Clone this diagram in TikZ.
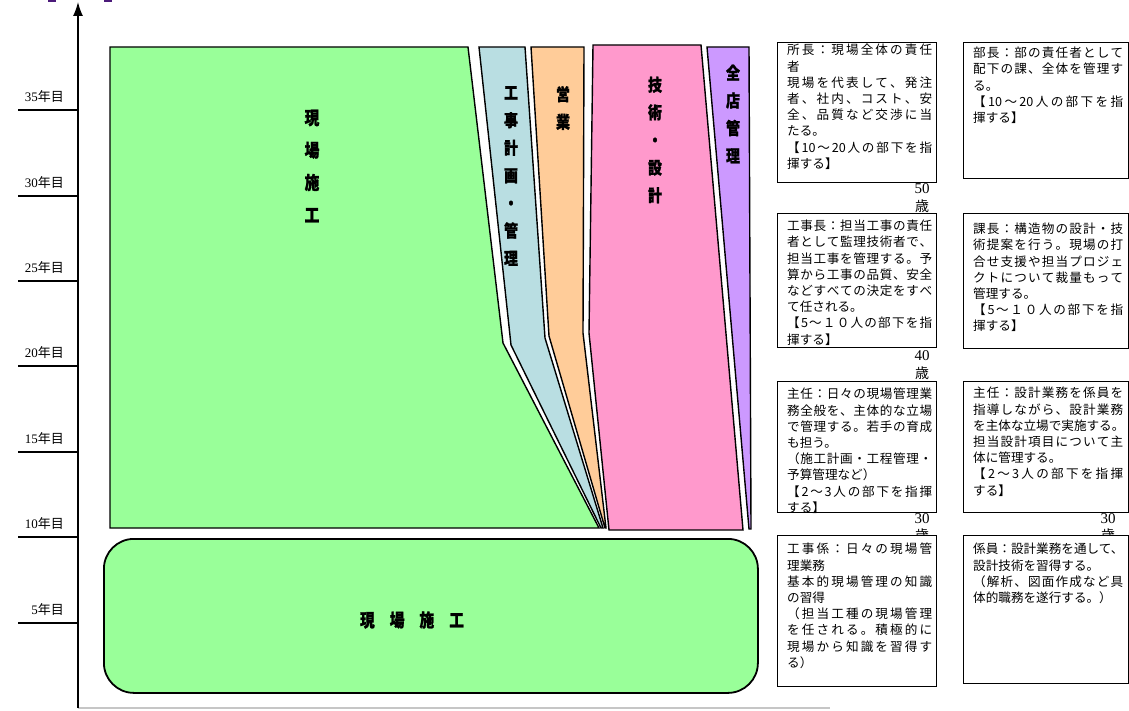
\documentclass[tikz,border=0pt]{standalone}
\usepackage{fontspec}
\setmainfont{Liberation Serif}
\newfontfamily\jp{Noto Sans CJK JP}
\newfontfamily\jpc{Noto Sans CJK JP}[FakeStretch=0.82, BoldFeatures={FakeBold=1.2}]
\usetikzlibrary{arrows.meta}
\makeatletter
\def\jaend{\jaend}
\def\jaloop#1{\ifx\jaend#1\else#1\hskip 0pt plus 1fil\expandafter\jaloop\fi}
\newcommand\ja[1]{\hbox to 145pt{\jaloop#1\jaend\unskip}}
\newcommand\jb[1]{\hbox to 150pt{\jaloop#1\jaend\unskip}}
\makeatother
\definecolor{cgreen}{HTML}{99FF99}
\definecolor{cblue}{HTML}{B9DEE2}
\definecolor{corange}{HTML}{FFCC99}
\definecolor{cpink}{HTML}{FF99CC}
\definecolor{cpurple}{HTML}{CC99FF}
\definecolor{cmark}{HTML}{4B1A7A}
\tikzset{
  band/.style={draw=black, line width=1.4pt, line join=miter},
  vlab/.style={align=center, inner sep=0pt, font=\jpc\bfseries\fontsize{17}{27.6}\selectfont},
  infobox/.style={draw=black, line width=1.1pt, fill=white, inner sep=0pt, anchor=north west},
  infotext/.style={align=left, inner sep=0pt, anchor=north west, font=\jp\fontsize{12.6}{16.2}\selectfont},
  agenum/.style={inner sep=0pt, font=\fontsize{15}{15}\selectfont},
  agekanji/.style={inner sep=0pt, font=\jp\fontsize{14}{14}\selectfont},
  ylab/.style={inner sep=0pt, anchor=east, font=\fontsize{13}{13}\selectfont},
}
\begin{document}
\begin{tikzpicture}[x=1pt, y=-1pt]
\useasboundingbox (0,0) rectangle (1129,711);

% top fragments
\fill[cmark] (48,0) rectangle (56,2.5);
\fill[cmark] (104,0) rectangle (112,2.5);

% axis
\coordinate (ax0) at (78,708);
\coordinate (axtop) at (78,2);
\coordinate (axr) at (830,708);
\draw[line width=2pt, gray!45] (ax0) -- (axr);
\draw[line width=1.5pt, -{Latex[length=14pt, width=10pt]}] (ax0) -- (axtop);

% ticks and labels
\foreach \y/\t in {110/35, 196/30, 281/25, 366/20, 452/15, 537/10, 623/5} {
  \coordinate (tl\t) at (18,\y);
  \coordinate (tr\t) at (78,\y);
  \draw[line width=1.1pt] (tl\t) -- (tr\t);
  \node[ylab] (yl\t) at (64,\y-13) {\t{\jp 年目}};
}

% bands
\fill[cgreen] (110,47) -- (468,47) -- (503,343) -- (599,528) -- (110,528) -- cycle;
\draw[band] (110,47) -- (468,47) -- (503,343) -- (599,528) -- (110,528) -- cycle;
\draw[band, fill=cblue] (479,47) -- (525,47) -- (545,338) -- (603,528) -- (601,528) -- (511,345) -- cycle;
\draw[band, fill=corange] (531,47) -- (584,47) -- (583,333) -- (606,528) -- (605,528) -- (549,336) -- cycle;
\draw[band, fill=cpink] (593,45) -- (701,45) -- (743,530) -- (609,530) -- (589,333) -- cycle;
\draw[band, fill=cpurple] (707,47) -- (749,47) -- (751,529) -- (749,529) -- cycle;

% band labels
\node[vlab, font=\jpc\bfseries\fontsize{18}{32.4}\selectfont] (lgenba) at (312,166) {現\\場\\施\\工};
\node[vlab] (lkoji) at (511,176) {工\\事\\計\\画\\・\\管\\理};
\node[vlab] (leigyo) at (563,108) {営\\業};
\node[vlab] (lgijutsu) at (655,140) {技\\術\\・\\設\\計};
\node[vlab] (lzenten) at (733,114) {全\\店\\管\\理};

% bottom rounded box
\node[draw=black, line width=1.8pt, fill=cgreen, rounded corners=30pt,
      minimum width=654pt, minimum height=154pt, anchor=north west, inner sep=0pt] (base) at (103,538) {};
\node[inner sep=0pt, font=\jpc\bfseries\fontsize{18}{18}\selectfont] (basetxt) at (412,620) {現\hspace{15pt}場\hspace{15pt}施\hspace{15pt}工};

% age labels
\node[agenum] (a50) at (922,189) {50};
\node[agekanji] (a50k) at (922,206) {歳};
\node[agenum] (a40) at (922,356) {40};
\node[agekanji] (a40k) at (922,373) {歳};
\node[agenum] (a30) at (922,519) {30};
\node[agekanji] (a30k) at (922,535) {歳};
\node[agenum] (b30) at (1108,519) {30};
\node[agekanji] (b30k) at (1108,535) {歳};

% info boxes column 1
\node[infobox, minimum width=159pt, minimum height=140pt] (B1) at (777,42) {};
\node[infotext] (B1t) at (787,44) {\ja{所長：現場全体の責任}\\者\\\ja{現場を代表して、発注}\\\ja{者、社内、コスト、安}\\\ja{全、品質など交渉に当}\\たる。\\\ja{【{10}～{20}人の部下を指}\\揮する】};
\node[infobox, minimum width=159pt, minimum height=134pt] (B2) at (777,213) {};
\node[infotext] (B2t) at (787,220) {\ja{工事長：担当工事の責任}\\\ja{者として監理技術者で、}\\\ja{担当工事を管理する。予}\\\ja{算から工事の品質、安全}\\\ja{などすべての決定をすべ}\\て任される。\\\ja{【5～１０人の部下を指}\\揮する】};
\node[infobox, minimum width=159pt, minimum height=131pt] (B3) at (777,381) {};
\node[infotext] (B3t) at (787,388) {\ja{主任：日々の現場管理業}\\\ja{務全般を、主体的な立場}\\\ja{で管理する。若手の育成}\\も担う。\\\ja{（施工計画・工程管理・}\\予算管理など）\\\ja{【2～3人の部下を指揮}\\する】};
\node[infobox, minimum width=159pt, minimum height=151pt] (B4) at (777,535) {};
\node[infotext] (B4t) at (787,543) {\ja{工事係：日々の現場管}\\理業務\\\ja{基本的現場管理の知識}\\の習得\\\ja{（担当工種の現場管理}\\\ja{を任される。積極的に}\\\ja{現場から知識を習得す}\\る）};

% info boxes column 2
\node[infobox, minimum width=165pt, minimum height=136pt] (C1) at (963,42) {};
\node[infotext] (C1t) at (973,47) {\jb{部長：部の責任者として}\\\jb{配下の課、全体を管理す}\\る。\\\jb{【{10}～{20}人の部下を指}\\揮する】};
\node[infobox, minimum width=165pt, minimum height=135pt] (C2) at (963,213) {};
\node[infotext] (C2t) at (973,223) {\jb{課長：構造物の設計・技}\\\jb{術提案を行う。現場の打}\\\jb{合せ支援や担当プロジェ}\\\jb{クトについて裁量もって}\\管理する。\\\jb{【5～１０人の部下を指}\\揮する】};
\node[infobox, minimum width=165pt, minimum height=131pt] (C3) at (963,381) {};
\node[infotext] (C3t) at (973,387) {\jb{主任：設計業務を係員を}\\\jb{指導しながら、設計業務}\\を主体な立場で実施する。\\\jb{担当設計項目について主}\\体に管理する。\\\jb{【2～3人の部下を指揮}\\する】};
\node[infobox, minimum width=165pt, minimum height=148pt] (C4) at (963,535) {};
\node[infotext] (C4t) at (973,543) {係員：設計業務を通して、\\設計技術を習得する。\\\jb{（解析、図面作成など具}\\体的職務を遂行する。）};
\end{tikzpicture}
\end{document}
